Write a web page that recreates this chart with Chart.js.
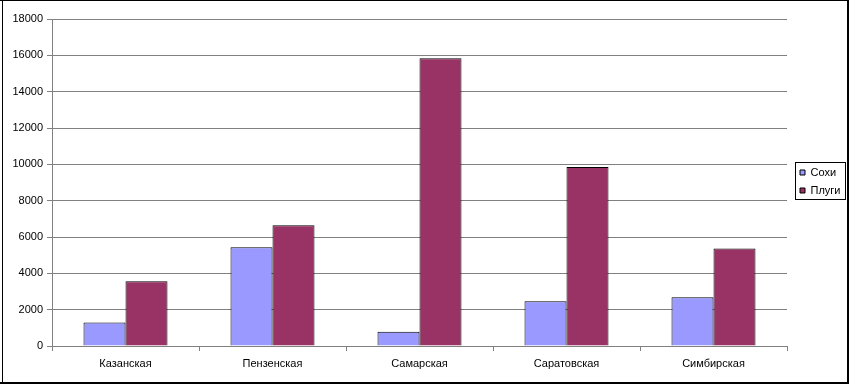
<!DOCTYPE html>
<html>
<head>
<meta charset="utf-8">
<script src="https://cdn.jsdelivr.net/npm/chart.js@4/dist/chart.umd.min.js"></script>
<style>
html,body{margin:0;padding:0;background:#fff;}
#wrap{width:849px;height:384px;position:relative;}
canvas{display:block;}
</style>
</head>
<body>
<div id="wrap"><canvas id="c" width="849" height="384"></canvas></div>
<script>
// ---- data ----
const categories = ['Казанская', 'Пензенская', 'Самарская', 'Саратовская', 'Симбирская'];
const seriesNames = ['Сохи', 'Плуги'];
const sokhi = [1290, 5440, 780, 2460, 2680];
const plugi = [3570, 6650, 15840, 9850, 5370];
const yTicks = [0, 2000, 4000, 6000, 8000, 10000, 12000, 14000, 16000, 18000];

// ---- styling ----
const FONT = "'Liberation Sans', Arial, sans-serif";
Chart.defaults.font.family = FONT;
Chart.defaults.font.size = 11;
Chart.defaults.color = '#000';

const framePlugin = {
  id: 'frame',
  beforeLayout(chart) {
    const lg = chart.legend;
    if (lg && !lg._fixedWidth) {
      const fit = lg.fit.bind(lg);
      lg.fit = function () { fit(); this.width = 62; };
      lg._fixedWidth = true;
    }
  },
  afterUpdate(chart) {
    const lg = chart.legend;
    if (!lg) return;
    lg.left = 793; lg.right = 845; lg.top = 158; lg.bottom = 205;
    lg.width = lg.right - lg.left; lg.height = lg.bottom - lg.top;
  },
  beforeDraw(chart) {
    const ctx = chart.ctx;
    ctx.save();
    ctx.fillStyle = '#fff';
    ctx.fillRect(0, 0, chart.width, chart.height);
    ctx.restore();
  },
  afterDraw(chart) {
    const ctx = chart.ctx;
    ctx.save();
    ctx.strokeStyle = '#000';
    ctx.lineWidth = 1;
    ctx.strokeRect(795.5, 162.5, 50, 37);
    ctx.fillStyle = '#000';
    ctx.fillRect(0, 0, 849, 1);
    ctx.fillRect(2, 0, 1, 384);
    ctx.fillRect(847, 0, 2, 384);
    ctx.fillRect(0, 382, 849, 2);
    ctx.restore();
  }
};

new Chart(document.getElementById('c'), {
  type: 'bar',
  data: {
    labels: categories,
    datasets: [
      { label: seriesNames[0], data: sokhi, backgroundColor: '#9999FF', borderColor: '#000', borderWidth: 1 },
      { label: seriesNames[1], data: plugi, backgroundColor: '#993366', borderColor: '#000', borderWidth: 1 }
    ]
  },
  options: {
    responsive: false,
    animation: false,
    devicePixelRatio: 1,
    layout: { padding: { left: 0, top: 19, right: 0, bottom: 0 } },
    datasets: { bar: { categoryPercentage: 0.5714, barPercentage: 1.0 } },
    plugins: {
      legend: {
        position: 'right',
        labels: { boxWidth: 5, boxHeight: 5, padding: 7, color: '#000', font: { size: 11, family: FONT } }
      },
      tooltip: { enabled: false }
    },
    scales: {
      x: {
        offset: true,
        grid: { offset: true, drawOnChartArea: false, drawTicks: true, tickLength: 5, color: '#808080' },
        border: { color: '#808080' },
        ticks: { padding: 6, color: '#000', maxRotation: 0, font: { size: 11, family: FONT } },
        afterFit(axis) { axis.height = 38; }
      },
      y: {
        min: 0, max: 18000,
        grid: { color: '#808080', tickLength: 5 },
        border: { color: '#808080' },
        ticks: { padding: 4, color: '#000', font: { size: 11, family: FONT }, callback: v => String(v) },
        afterBuildTicks(axis) { axis.ticks = yTicks.map(v => ({ value: v })); },
        afterFit(axis) { axis.width = 52; }
      }
    }
  },
  plugins: [framePlugin]
});
</script>
</body>
</html>
